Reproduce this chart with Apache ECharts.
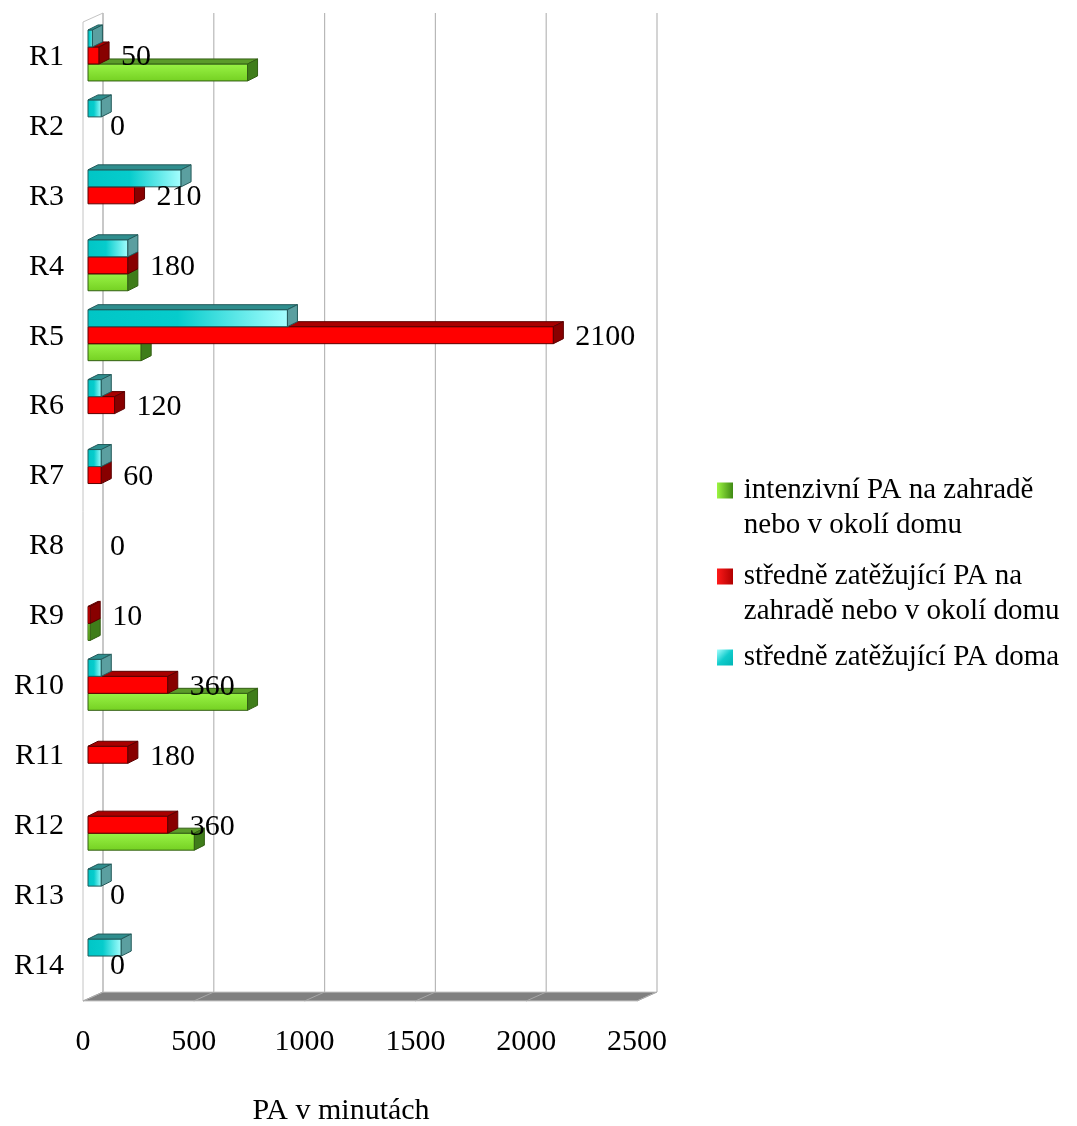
<!DOCTYPE html>
<html>
<head>
<meta charset="utf-8">
<script src="https://cdn.jsdelivr.net/npm/echarts@6/dist/echarts.min.js"></script>
<style>
  html, body { margin: 0; padding: 0; background: #ffffff; }
  #chart { width: 1077px; height: 1126px; }
</style>
</head>
<body>
<div id="chart"></div>
<script>
// Respondents R1–R14
const categories = ['R1', 'R2', 'R3', 'R4', 'R5', 'R6', 'R7', 'R8', 'R9', 'R10', 'R11', 'R12', 'R13', 'R14'];

// Minutes of physical activity per respondent
const intensiveGarden = [720, 0, 0, 180, 240, 0, 0, 0, 10, 720, 0, 480, 0, 0];
const moderateGarden  = [50, 0, 210, 180, 2100, 120, 60, 0, 10, 360, 180, 360, 0, 0];
const moderateHome    = [20, 60, 420, 180, 900, 60, 60, 0, 0, 60, 0, 0, 60, 150];

const seriesNames = [
  'intenzivní PA na zahradě\nnebo v okolí domu',
  'středně zatěžující PA na\nzahradě nebo v okolí domu',
  'středně zatěžující PA doma'
];

const xTicks = [0, 500, 1000, 1500, 2000, 2500];
const axisTitle = 'PA v minutách';

const FONT = '"Liberation Serif", "Times New Roman", serif';

// pseudo-3D geometry (pixels)
const WALL_DX = 20, WALL_DY = 9;     // depth of the wall box
const PLANE_DX = 5;                  // bars sit slightly behind the front plane
const DEPTH_X = 10, DEPTH_Y = 5;     // depth of each bar
const BAR_H = 17;

const palettes = [
  { // green
    front: new echarts.graphic.LinearGradient(0, 0, 0, 1, [
      { offset: 0, color: '#9af446' }, { offset: 1, color: '#74d022' }]),
    top: '#5b9b2a', side: '#3f7d1a', stroke: '#335f14',
    legend: new echarts.graphic.LinearGradient(0, 0, 1, 0, [
      { offset: 0, color: '#9cf541' }, { offset: 1, color: '#3f8a14' }])
  },
  { // red
    front: '#ff0000', top: '#a80000', side: '#880000', stroke: '#5c0000',
    legend: new echarts.graphic.LinearGradient(0, 0, 1, 0, [
      { offset: 0, color: '#ff1a1a' }, { offset: 1, color: '#b00000' }])
  },
  { // cyan
    front: new echarts.graphic.LinearGradient(0, 0, 1, 0, [
      { offset: 0, color: '#00c6c6' }, { offset: 0.45, color: '#06cccc' }, { offset: 1, color: '#a6ffff' }]),
    top: '#2f8e8e', side: '#5b9fa0', stroke: '#235a5a',
    legend: new echarts.graphic.LinearGradient(0, 0, 1, 1, [
      { offset: 0, color: '#a6ffff' }, { offset: 0.5, color: '#10cccc' }, { offset: 1, color: '#00b4b4' }])
  }
];

// slot = vertical position inside the category band (0 = top)
const slotOf = [2, 1, 0];

function makeBarRenderer(seriesIdx, withLabel) {
  const pal = palettes[seriesIdx];
  const slot = slotOf[seriesIdx];
  return function (params, api) {
    const v = api.value(0);
    const cat = api.value(1);
    const base = api.coord([0, cat]);
    const end = api.coord([v, cat]);
    const cy = base[1];
    const x0 = base[0] + PLANE_DX;
    const x1 = end[0] + PLANE_DX;
    const yt = cy - 27 + slot * BAR_H;
    const yb = yt + BAR_H;
    const children = [];
    if (v > 0) {
      children.push({
        type: 'rect',
        shape: { x: x0, y: yt, width: x1 - x0, height: BAR_H },
        style: { fill: pal.front, stroke: pal.stroke, lineWidth: 1 }
      });
      children.push({
        type: 'polygon',
        shape: { points: [[x0, yt], [x1, yt], [x1 + DEPTH_X, yt - DEPTH_Y], [x0 + DEPTH_X, yt - DEPTH_Y]] },
        style: { fill: pal.top, stroke: pal.stroke, lineWidth: 1 }
      });
      children.push({
        type: 'polygon',
        shape: { points: [[x1, yt], [x1 + DEPTH_X, yt - DEPTH_Y], [x1 + DEPTH_X, yb - DEPTH_Y], [x1, yb]] },
        style: { fill: pal.side, stroke: pal.stroke, lineWidth: 1 }
      });
    }
    if (withLabel) {
      children.push({
        type: 'text',
        z2: 100,
        style: {
          x: end[0] + PLANE_DX + DEPTH_X + 12,
          y: yt + BAR_H / 2 + 2,
          text: String(v),
          font: '30px ' + FONT,
          fill: '#000000',
          align: 'left',
          verticalAlign: 'middle'
        }
      });
    }
    return { type: 'group', children: children };
  };
}

// walls, back gridlines and floor of the box
function renderFrame(params, api) {
  const band = api.size([0, 1])[1];
  const yTop = api.coord([0, 0])[1] - band / 2;
  const yBot = api.coord([0, categories.length - 1])[1] + band / 2;
  const xL = api.coord([xTicks[0], 0])[0];
  const xR = api.coord([xTicks[xTicks.length - 1], 0])[0];
  const children = [];
  // left wall
  children.push({
    type: 'polygon',
    shape: { points: [[xL, yTop], [xL + WALL_DX, yTop - WALL_DY], [xL + WALL_DX, yBot - WALL_DY], [xL, yBot]] },
    style: { fill: '#ffffff', stroke: '#c4c4c4', lineWidth: 1 }
  });
  // back wall gridlines
  xTicks.forEach(function (t) {
    const x = api.coord([t, 0])[0] + WALL_DX;
    children.push({
      type: 'line',
      shape: { x1: x, y1: yTop - WALL_DY, x2: x, y2: yBot - WALL_DY },
      style: { stroke: '#b8b8b8', lineWidth: 1.2 }
    });
  });
  // floor
  children.push({
    type: 'polygon',
    shape: { points: [[xL, yBot], [xR, yBot], [xR + WALL_DX, yBot - WALL_DY], [xL + WALL_DX, yBot - WALL_DY]] },
    style: { fill: '#808080', stroke: '#c8c8c8', lineWidth: 1 }
  });
  xTicks.forEach(function (t) {
    const x = api.coord([t, 0])[0];
    children.push({
      type: 'line',
      shape: { x1: x, y1: yBot, x2: x + WALL_DX, y2: yBot - WALL_DY },
      style: { stroke: '#a8a8a8', lineWidth: 1 }
    });
  });
  return { type: 'group', children: children };
}

function toData(values) {
  return values.map(function (v, i) { return [v, i]; });
}

// legend text: a thin lead-in space on every line; two-line entries get an
// empty first line so that their first line sits level with the marker
function legendText(name) {
  const lines = name.split('\n').map(function (s) { return '\u2009' + s; });
  return (lines.length > 1 ? '\n' : '') + lines.join('\n');
}

const chart = echarts.init(document.getElementById('chart'), null, { renderer: 'canvas' });

chart.setOption({
  animation: false,
  backgroundColor: '#ffffff',
  textStyle: { fontFamily: FONT, color: '#000000' },
  grid: { left: 83, right: 440, top: 22, bottom: 125, containLabel: false, outerBoundsMode: 'none' },
  xAxis: {
    type: 'value',
    min: xTicks[0],
    max: xTicks[xTicks.length - 1],
    interval: 500,
    axisLine: { show: false },
    axisTick: { show: false },
    splitLine: { show: false },
    axisLabel: {
      margin: 26,
      fontSize: 30,
      fontFamily: FONT,
      color: '#000000',
      formatter: function (v) { return String(v); }
    },
    name: axisTitle,
    nameLocation: 'middle',
    nameGap: 95,
    nameTextStyle: { fontSize: 30, fontFamily: FONT, color: '#000000', padding: [0, 38, 0, 0] }
  },
  yAxis: {
    type: 'category',
    inverse: true,
    data: categories,
    axisLine: { show: false },
    axisTick: { show: false },
    splitLine: { show: false },
    axisLabel: { margin: 19, fontSize: 30, fontFamily: FONT, color: '#000000' }
  },
  legend: {
    orient: 'vertical',
    left: 717,
    top: 438,
    padding: 0,
    itemGap: -19,
    itemWidth: 16,
    itemHeight: 16,
    icon: 'rect',
    selectedMode: false,
    formatter: legendText,
    textStyle: { fontSize: 29, lineHeight: 35, fontFamily: FONT, color: '#000000' },
    data: [
      { name: seriesNames[0], itemStyle: { color: palettes[0].legend } },
      { name: seriesNames[1], itemStyle: { color: palettes[1].legend } },
      { name: seriesNames[2], itemStyle: { color: palettes[2].legend }, textStyle: { padding: [30, 0, 30, 0] } }
    ]
  },
  series: [
    {
      name: 'frame',
      type: 'custom',
      silent: true,
      renderItem: renderFrame,
      encode: { x: 0, y: 1 },
      data: [[0, 0]]
    },
    {
      name: seriesNames[0],
      type: 'custom',
      renderItem: makeBarRenderer(0, false),
      encode: { x: 0, y: 1 },
      itemStyle: { color: palettes[0].legend },
      data: toData(intensiveGarden)
    },
    {
      name: seriesNames[1],
      type: 'custom',
      renderItem: makeBarRenderer(1, true),
      encode: { x: 0, y: 1 },
      itemStyle: { color: palettes[1].legend },
      data: toData(moderateGarden)
    },
    {
      name: seriesNames[2],
      type: 'custom',
      renderItem: makeBarRenderer(2, false),
      encode: { x: 0, y: 1 },
      itemStyle: { color: palettes[2].legend },
      data: toData(moderateHome)
    }
  ]
});
</script>
</body>
</html>
